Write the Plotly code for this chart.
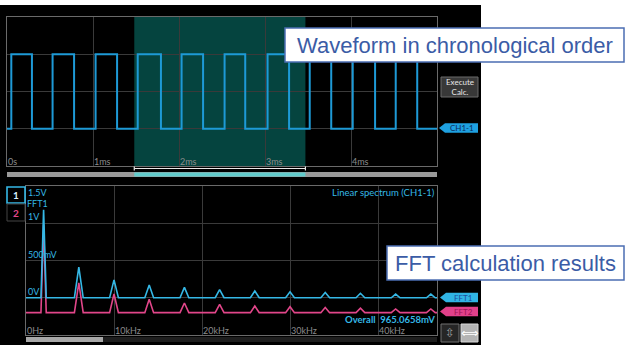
import plotly.graph_objects as go

# ---------------- data ----------------
# top panel: square wave (time in ms, level in divisions)
edge_times_ms = [0.05, 0.29, 0.53, 0.78, 1.03, 1.28, 1.52, 1.79, 2.03, 2.28,
                 2.53, 2.77, 3.03, 3.28, 3.52, 3.77, 4.02, 4.28, 4.52, 4.77]
wave_levels = [1, 3, 1, 3, 1, 3, 1, 3, 1, 3, 1, 3, 1, 3, 1, 3, 1, 3, 1, 3, 1]
time_ticks = [0, 1, 2, 3, 4]
time_tick_labels = ["0s", "1ms", "2ms", "3ms", "4ms"]
calc_window_ms = [1.48, 3.47]

# bottom panel: linear spectrum (kHz, V)
peak_freqs_khz = [2, 6, 10, 14, 18, 22, 26, 30, 34, 38, 42, 46]
fft1_peaks_v = [1.18, 0.41, 0.24, 0.17, 0.14, 0.11, 0.09, 0.08, 0.07, 0.06, 0.05, 0.05]
fft2_peaks_v = [1.18, 0.40, 0.25, 0.18, 0.13, 0.11, 0.09, 0.08, 0.07, 0.06, 0.05, 0.05]
peak_halfwidth_khz = [0.3, 0.5, 0.5, 0.5, 0.5, 0.5, 0.5, 0.5, 0.5, 0.5, 0.5, 0.5]
fft1_base_v = 0.0
fft2_base_v = -0.2
freq_ticks = [0, 10, 20, 30, 40]
freq_tick_labels = ["0Hz", "10kHz", "20kHz", "30kHz", "40kHz"]
volt_ticks = [1.5, 1.0, 0.5, 0.0]
volt_tick_labels = ["1.5V", "1V", "500mV", "0V"]
freq_max_khz = 46.7

# ---------------- helpers ----------------
W, H = 625, 345


def px(x):
    return x / W


def py(y):
    return 1 - y / H


def wave_xy(edges, levels, t_end):
    xs = [0] + list(edges)
    ys = list(levels)
    xs.append(t_end)
    ys.append(levels[-1])
    return xs, ys


def spectrum_xy(freqs, heights, hws, base, fmax):
    xs, ys = [0], [base]
    for f, h, hw in zip(freqs, heights, hws):
        if f - hw > xs[-1]:
            xs.append(f - hw)
            ys.append(base)
        xs.append(f)
        ys.append(base + h)
        xs.append(min(f + hw, fmax))
        ys.append(base)
    if xs[-1] < fmax:
        xs.append(fmax)
        ys.append(base)
    return xs, ys


GRID = "#3a3a3a"
FRAME = "#6a6a6a"
TXT_GRAY = "#8c8c8c"
CYAN_W = "#1e9ad6"
CYAN = "#35b8e6"
PINK = "#e2468a"
FONT = "Lato"

fig = go.Figure()

wx, wy = wave_xy(edge_times_ms, wave_levels, 5)
fig.add_trace(go.Scatter(x=wx, y=wy, mode="lines", line=dict(color=CYAN_W, width=2, shape="hv"),
                         xaxis="x", yaxis="y", hoverinfo="skip"))

sx2, sy2 = spectrum_xy(peak_freqs_khz, fft2_peaks_v, peak_halfwidth_khz, fft2_base_v, freq_max_khz)
fig.add_trace(go.Scatter(x=sx2, y=sy2, mode="lines", line=dict(color=PINK, width=1.6),
                         xaxis="x2", yaxis="y2", hoverinfo="skip"))
sx1, sy1 = spectrum_xy(peak_freqs_khz, fft1_peaks_v, peak_halfwidth_khz, fft1_base_v, freq_max_khz)
fig.add_trace(go.Scatter(x=sx1, y=sy1, mode="lines", line=dict(color=CYAN, width=1.6),
                         xaxis="x2", yaxis="y2", hoverinfo="skip"))

ax_common = dict(showgrid=True, gridcolor=GRID, gridwidth=1, zeroline=False, showticklabels=False,
                 ticks="", showline=True, linecolor=FRAME, linewidth=1, mirror=True, fixedrange=True)

fig.update_layout(
    width=W, height=H, margin=dict(l=0, r=0, t=0, b=0),
    paper_bgcolor="white", plot_bgcolor="black", showlegend=False,
    xaxis=dict(domain=[px(7), px(437)], range=[0, 5], dtick=1, anchor="y", **ax_common),
    yaxis=dict(domain=[py(166), py(17)], range=[0, 4], dtick=1, anchor="x", **ax_common),
    xaxis2=dict(domain=[px(26), px(437)], range=[0, freq_max_khz], dtick=10, anchor="y2", **ax_common),
    yaxis2=dict(domain=[py(335), py(186)], range=[-0.5, 1.5], dtick=0.5, anchor="x2", **ax_common),
)

shapes = []
# black screen background
shapes.append(dict(type="rect", xref="paper", yref="paper", x0=px(0), x1=px(481), y0=py(345), y1=py(5),
                   fillcolor="black", line=dict(width=0), layer="below"))
# calculation window
shapes.append(dict(type="rect", xref="x", yref="paper", x0=calc_window_ms[0], x1=calc_window_ms[1],
                   y0=py(166), y1=py(17), fillcolor="#05443f", line=dict(width=0), layer="below"))
# bracket under window
shapes.append(dict(type="line", xref="x", yref="paper", x0=calc_window_ms[0], x1=calc_window_ms[1],
                   y0=py(168.5), y1=py(168.5), line=dict(color="#e8e8e8", width=1.2)))
for t in calc_window_ms:
    shapes.append(dict(type="line", xref="x", yref="paper", x0=t, x1=t, y0=py(166.5), y1=py(170.5),
                       line=dict(color="#e8e8e8", width=1.2)))
# top scroll bar
shapes.append(dict(type="rect", xref="paper", yref="paper", x0=px(7), x1=px(437), y0=py(177), y1=py(172),
                   fillcolor="#9a9a9a", line=dict(width=0)))
shapes.append(dict(type="rect", xref="x", yref="paper", x0=calc_window_ms[0], x1=calc_window_ms[1],
                   y0=py(176.5), y1=py(172.5), fillcolor="#62cccc", line=dict(width=0)))
# bottom scroll bar
shapes.append(dict(type="rect", xref="paper", yref="paper", x0=px(26), x1=px(437), y0=py(342), y1=py(337),
                   fillcolor="#1e1e1e", line=dict(width=0)))
shapes.append(dict(type="rect", xref="paper", yref="paper", x0=px(26), x1=px(103), y0=py(342), y1=py(337),
                   fillcolor="#a8a8a8", line=dict(width=0)))
# channel selector boxes
shapes.append(dict(type="rect", xref="paper", yref="paper", x0=px(7), x1=px(25), y0=py(203), y1=py(187),
                   fillcolor="black", line=dict(color=CYAN, width=1.6)))
shapes.append(dict(type="rect", xref="paper", yref="paper", x0=px(7), x1=px(25), y0=py(221), y1=py(204),
                   fillcolor="black", line=dict(color="#444444", width=1)))
# Execute Calc. button
shapes.append(dict(type="rect", xref="paper", yref="paper", x0=px(441), x1=px(478), y0=py(97), y1=py(77),
                   fillcolor="#383838", line=dict(color="#6a6a6a", width=1)))


def tag(tip_x, yc, color):
    pts = [(tip_x, yc), (tip_x + 6, yc - 4.8), (478, yc - 4.8), (478, yc + 4.8), (tip_x + 6, yc + 4.8)]
    path = "M " + " L ".join(f"{px(a):.5f},{py(b):.5f}" for a, b in pts) + " Z"
    return dict(type="path", xref="paper", yref="paper", path=path, fillcolor=color, line=dict(width=0))


shapes.append(tag(439, 128, "#1ea0e0"))
shapes.append(tag(440, 297.5, "#30b4e4"))
shapes.append(tag(440, 311.5, "#e2408a"))
# icon buttons
shapes.append(dict(type="rect", xref="paper", yref="paper", x0=px(441), x1=px(459), y0=py(342), y1=py(324),
                   fillcolor="#262626", line=dict(color="#707070", width=1)))
shapes.append(dict(type="rect", xref="paper", yref="paper", x0=px(461), x1=px(478), y0=py(342), y1=py(324),
                   fillcolor="#b4b4b4", line=dict(color="#d8d8d8", width=1)))
# callout boxes
shapes.append(dict(type="rect", xref="paper", yref="paper", x0=px(285), x1=px(624), y0=py(62), y1=py(28),
                   fillcolor="white", line=dict(color="#4b6db3", width=1.5)))
shapes.append(dict(type="rect", xref="paper", yref="paper", x0=px(387), x1=px(624), y0=py(280), y1=py(246),
                   fillcolor="white", line=dict(color="#4b6db3", width=1.5)))
fig.update_layout(shapes=shapes)


def label(x, y, text, size, color, family=FONT, xanchor="center", yanchor="middle", xref="paper", yref="paper"):
    return dict(x=x, y=y, xref=xref, yref=yref, text=text, showarrow=False, xanchor=xanchor, yanchor=yanchor,
                borderpad=0, font=dict(family=family, size=size, color=color))


ann = []
for t, lab in zip(time_ticks, time_tick_labels):
    ann.append(label(t, py(161.5), lab, 9, TXT_GRAY, xanchor="left", xref="x"))
for f, lab in zip(freq_ticks, freq_tick_labels):
    ann.append(label(f, py(330), lab, 9, TXT_GRAY, xanchor="left", xref="x2"))
for v, lab in zip(volt_ticks, volt_tick_labels):
    ann.append(label(px(27), v, lab, 9, CYAN, xanchor="left",
                     yanchor="top" if v == 1.5 else "bottom", yref="y2"))
ann.append(label(px(26), py(203), "FFT1", 9, CYAN, xanchor="left"))
ann.append(label(px(436), py(193), "Linear spectrum (CH1-1)", 9.5, CYAN, xanchor="right"))
ann.append(label(px(436), py(319), "<b>Overall  965.0658mV</b>", 9.5, CYAN, xanchor="right"))
ann.append(label(px(16), py(195), "<b>1</b>", 10, "#d8f0ff"))
ann.append(label(px(16), py(212.5), "<b>2</b>", 10, PINK))
ann.append(label(px(459.5), py(87), "Execute<br>Calc.", 8, "#e8e8e8"))
ann.append(label(px(462), py(128), "CH1-1", 8, "#0b2a5a"))
ann.append(label(px(463), py(297.5), "FFT1", 8, "#1d4c9c"))
ann.append(label(px(463), py(311.5), "FFT2", 8, "#9a1454"))
ann.append(label(px(450), py(333), "⇳", 12, "#9a9a9a", family="DejaVu Sans"))
ann.append(label(px(469.5), py(333), "⟺", 12, "white", family="DejaVu Sans"))
ann.append(label(px(454.5), py(45), "Waveform in chronological order", 22, "#3b5ca6", family="Liberation Sans"))
ann.append(label(px(505.5), py(263), "FFT calculation results", 22, "#3b5ca6", family="Liberation Sans"))
fig.update_layout(annotations=ann)

fig.write_html("out.html", config=dict(displayModeBar=False),
               post_script="document.body.style.margin='0';document.body.style.padding='0';")
